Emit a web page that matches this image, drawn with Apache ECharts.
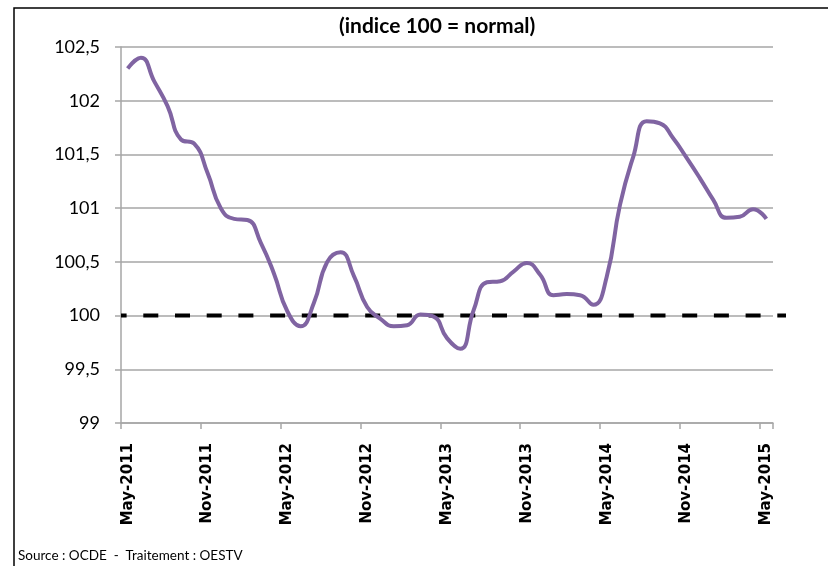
<!DOCTYPE html>
<html>
<head>
<meta charset="utf-8">
<script src="https://cdn.jsdelivr.net/npm/echarts@6/dist/echarts.min.js"></script>
<style>
  html, body { margin: 0; padding: 0; background: #fff; }
  #chart { width: 828px; height: 566px; }
</style>
</head>
<body>
<div id="chart"></div>
<script>
// months May-2011 .. May-2015
var monthNames = ['Jan','Feb','Mar','Apr','May','Jun','Jul','Aug','Sep','Oct','Nov','Dec'];
var months = [];
for (var k = 0; k < 49; k++) {
    var m = (4 + k) % 12;
    var y = 2011 + Math.floor((4 + k) / 12);
    months.push(monthNames[m] + '-' + y);
}

// indice (100 = normal)
var indice = [
    102.30, 102.40, 102.18, 101.95, 101.64, 101.60, 101.33, 101.00, 100.90, 100.89,
    100.68, 100.39, 100.04, 99.90, 100.12, 100.50, 100.59, 100.37, 100.08, 99.97,
    99.90, 99.91, 100.01, 99.99, 99.79, 99.69, 100.05, 100.31, 100.32, 100.41,
    100.49, 100.38, 100.19, 100.20, 100.19, 100.10, 100.36, 101.03, 101.48, 101.81,
    101.79, 101.65, 101.47, 101.28, 101.08, 100.91, 100.92, 100.99, 100.90
];

// ligne "normal" = 100 (axe secondaire, un peu plus long que l'axe des mois)
var normalX = [0, 50];
var normalY = [100, 100];

var yTicks = ['99', '99,5', '100', '100,5', '101', '101,5', '102', '102,5'];

var myChart = echarts.init(document.getElementById('chart'));
var gridColor = '#a6a6a6';

myChart.setOption({
    animation: false,
    backgroundColor: '#fff',
    title: {
        text: '(indice 100 = normal)',
        left: 334,
        top: 11,
        textStyle: {
            fontFamily: 'Lato',
            fontWeight: 'bold',
            fontSize: 21,
            color: '#000'
        }
    },
    grid: [
        { left: 121, top: 47, right: 55, bottom: 143 },
        { left: 121, top: 47, right: 42, bottom: 143 }
    ],
    xAxis: [
        {
            type: 'category',
            gridIndex: 0,
            data: months,
            boundaryGap: true,
            axisLine: { lineStyle: { color: gridColor, width: 1.5 } },
            axisTick: { show: true, interval: 5, length: 6, lineStyle: { color: gridColor, width: 1.5 } },
            axisLabel: {
                interval: 5,
                rotate: 90,
                margin: 20,
                fontFamily: 'DejaVu Sans',
                fontWeight: 'bold',
                fontSize: 15,
                color: '#000'
            },
            splitLine: { show: false }
        },
        {
            type: 'value',
            gridIndex: 1,
            min: 0,
            max: 50,
            show: false
        }
    ],
    yAxis: [
        {
            type: 'value',
            gridIndex: 0,
            min: 99,
            max: 102.5,
            interval: 0.5,
            axisLine: { show: true, lineStyle: { color: gridColor, width: 1.5 } },
            axisTick: { show: true, length: 6, lineStyle: { color: gridColor, width: 1.5 } },
            axisLabel: {
                margin: 21,
                fontFamily: 'Lato',
                fontSize: 18,
                color: '#000',
                formatter: function (v) {
                    return yTicks[Math.round((v - 99) * 2)];
                }
            },
            splitLine: { show: true, lineStyle: { color: gridColor, width: 1.5 } }
        },
        {
            type: 'value',
            gridIndex: 1,
            min: 99,
            max: 102.5,
            show: false
        }
    ],
    graphic: [
        {
            type: 'rect',
            shape: { x: 14, y: 8, width: 900, height: 700 },
            style: { fill: 'none', stroke: '#000', lineWidth: 1.5 },
            silent: true
        },
        {
            type: 'text',
            left: 18,
            top: 549,
            style: {
                text: 'Source : OCDE  -  Traitement : OESTV',
                fontFamily: 'Lato',
                fontSize: 13.5,
                fill: '#000'
            }
        }
    ],
    series: [
        {
            name: 'normal',
            type: 'line',
            xAxisIndex: 1,
            yAxisIndex: 1,
            symbol: 'none',
            z: 2,
            data: normalX.map(function (x, i) { return [x, normalY[i]]; }),
            lineStyle: { color: '#000', width: 4, type: [15, 16.7], dashOffset: 9.4 }
        },
        {
            name: 'indice',
            type: 'line',
            smooth: 0.5,
            symbol: 'none',
            z: 3,
            data: indice,
            lineStyle: { color: '#8064a2', width: 4 }
        }
    ]
});
</script>
</body>
</html>
